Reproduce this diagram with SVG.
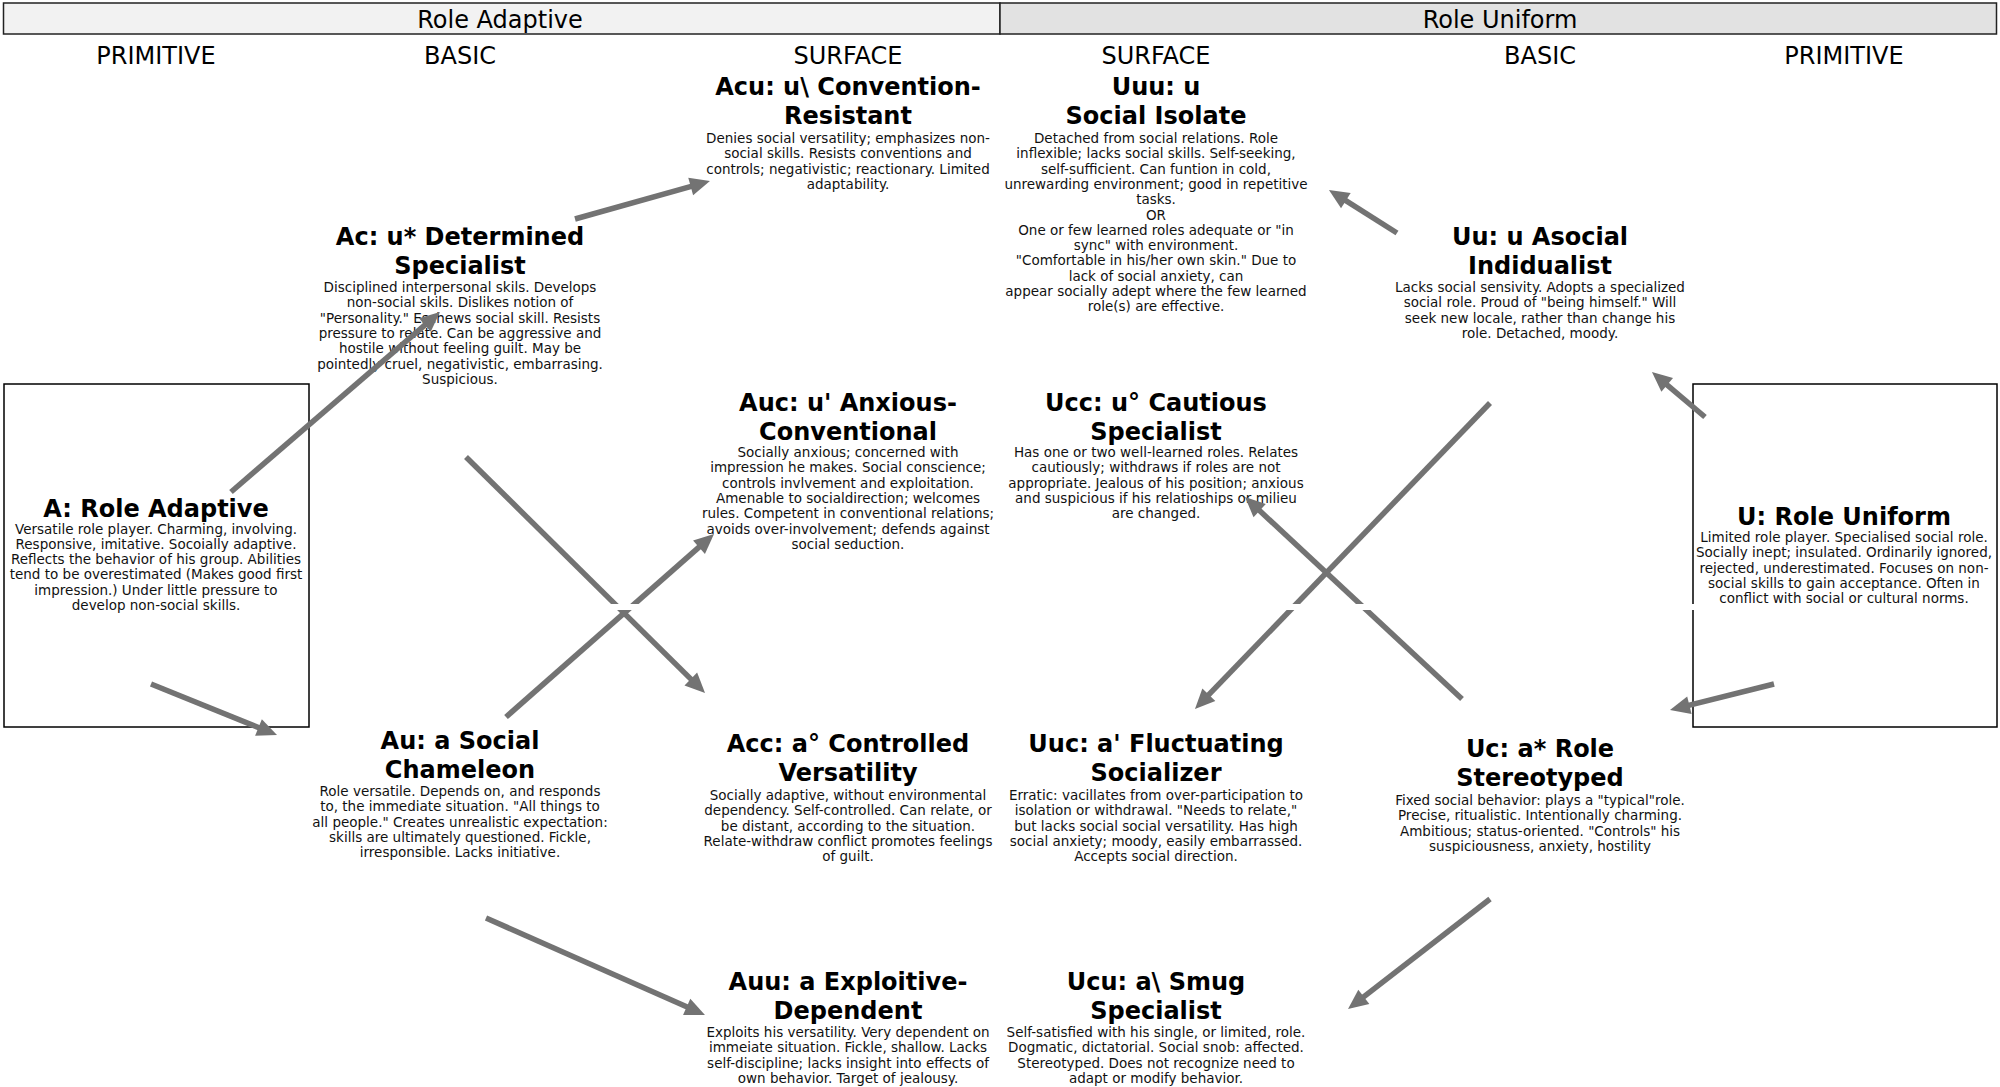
<svg xmlns="http://www.w3.org/2000/svg" width="2000" height="1087" viewBox="0 0 2000 1087">
<defs>
<style>
text{font-family:"DejaVu Sans","Liberation Sans",sans-serif;fill:#000;text-anchor:middle}
.hd{font-size:24px}
.tt{font-size:24px;font-weight:bold}
.bd{font-size:13.5px;fill:#111}
.box{fill:#fff;stroke:#000;stroke-width:1.5}
.arr{stroke:#737373;stroke-width:5.5;fill:none;marker-end:url(#ah)}
</style>
<marker id="ah" viewBox="-10 -10 24 20" refX="0" refY="0" markerWidth="24" markerHeight="20" markerUnits="userSpaceOnUse" orient="auto">
<path d="M-8,-9 L12,0 L-8,9 z" fill="#737373"/>
</marker>
</defs>
<rect width="2000" height="1087" fill="#fff"/>
<g id="header-adaptive">
<rect x="3.5" y="3" width="996.5" height="31" fill="#f2f2f2" stroke="#222" stroke-width="1.5"/>
<text class="hd" x="500" y="28">Role Adaptive</text>
</g>
<g id="header-uniform">
<rect x="1000" y="3" width="996.5" height="31" fill="#e2e2e2" stroke="#222" stroke-width="1.5"/>
<text class="hd" x="1500" y="28">Role Uniform</text>
</g>
<g id="column-labels">
<text class="hd" x="156" y="64">PRIMITIVE</text>
<text class="hd" x="460" y="64">BASIC</text>
<text class="hd" x="848" y="64">SURFACE</text>
<text class="hd" x="1156" y="64">SURFACE</text>
<text class="hd" x="1540" y="64">BASIC</text>
<text class="hd" x="1844" y="64">PRIMITIVE</text>
</g>
<g id="A">
<rect class="box" x="4" y="384" width="305" height="343"/>
<text class="tt" x="156" y="517">A: Role Adaptive</text>
<text class="bd" x="156" y="533.5"><tspan x="156">Versatile role player. Charming, involving.</tspan><tspan x="156" dy="15.3">Responsive, imitative. Socoially adaptive.</tspan><tspan x="156" dy="15.3">Reflects the behavior of his group. Abilities</tspan><tspan x="156" dy="15.3">tend to be overestimated (Makes good first</tspan><tspan x="156" dy="15.3">impression.) Under little pressure to</tspan><tspan x="156" dy="15.3">develop non-social skills.</tspan></text>
</g>
<g id="U">
<rect class="box" x="1693" y="384" width="304" height="343"/>
<text class="tt" x="1844" y="525">U: Role Uniform</text>
<text class="bd" x="1844" y="542"><tspan x="1844">Limited role player. Specialised social role.</tspan><tspan x="1844" dy="15.3">Socially inept; insulated. Ordinarily ignored,</tspan><tspan x="1844" dy="15.3">rejected, underestimated. Focuses on non-</tspan><tspan x="1844" dy="15.3">social skills to gain acceptance. Often in</tspan><tspan x="1844" dy="15.3">conflict with social or cultural norms.</tspan></text>
</g>
<g id="Acu">
<text class="tt" x="848" y="95"><tspan x="848">Acu: u\ Convention-</tspan><tspan x="848" dy="28.5">Resistant</tspan></text>
<text class="bd" x="848" y="143"><tspan x="848">Denies social versatility; emphasizes non-</tspan><tspan x="848" dy="15.3">social skills. Resists conventions and</tspan><tspan x="848" dy="15.3">controls; negativistic; reactionary. Limited</tspan><tspan x="848" dy="15.3">adaptability.</tspan></text>
</g>
<g id="Uuu">
<text class="tt" x="1156" y="95"><tspan x="1156">Uuu: u</tspan><tspan x="1156" dy="28.5">Social Isolate</tspan></text>
<text class="bd" x="1156" y="143"><tspan x="1156">Detached from social relations. Role</tspan><tspan x="1156" dy="15.3">inflexible; lacks social skills. Self-seeking,</tspan><tspan x="1156" dy="15.3">self-sufficient. Can funtion in cold,</tspan><tspan x="1156" dy="15.3">unrewarding environment; good in repetitive</tspan><tspan x="1156" dy="15.3">tasks.</tspan><tspan x="1156" dy="15.3">OR</tspan><tspan x="1156" dy="15.3">One or few learned roles adequate or "in</tspan><tspan x="1156" dy="15.3">sync" with environment.</tspan><tspan x="1156" dy="15.3">"Comfortable in his/her own skin." Due to</tspan><tspan x="1156" dy="15.3">lack of social anxiety, can</tspan><tspan x="1156" dy="15.3">appear socially adept where the few learned</tspan><tspan x="1156" dy="15.3">role(s) are effective.</tspan></text>
</g>
<g id="Ac">
<text class="tt" x="460" y="245"><tspan x="460">Ac: u* Determined</tspan><tspan x="460" dy="28.5">Specialist</tspan></text>
<text class="bd" x="460" y="292"><tspan x="460">Disciplined interpersonal skils. Develops</tspan><tspan x="460" dy="15.3">non-social skils. Dislikes notion of</tspan><tspan x="460" dy="15.3">"Personality." Eschews social skill. Resists</tspan><tspan x="460" dy="15.3">pressure to relate. Can be aggressive and</tspan><tspan x="460" dy="15.3">hostile without feeling guilt. May be</tspan><tspan x="460" dy="15.3">pointedly cruel, negativistic, embarrasing.</tspan><tspan x="460" dy="15.3">Suspicious.</tspan></text>
</g>
<g id="Uu">
<text class="tt" x="1540" y="245"><tspan x="1540">Uu: u Asocial</tspan><tspan x="1540" dy="28.5">Indidualist</tspan></text>
<text class="bd" x="1540" y="292"><tspan x="1540">Lacks social sensivity. Adopts a specialized</tspan><tspan x="1540" dy="15.3">social role. Proud of "being himself." Will</tspan><tspan x="1540" dy="15.3">seek new locale, rather than change his</tspan><tspan x="1540" dy="15.3">role. Detached, moody.</tspan></text>
</g>
<g id="Auc">
<text class="tt" x="848" y="411"><tspan x="848">Auc: u' Anxious-</tspan><tspan x="848" dy="28.5">Conventional</tspan></text>
<text class="bd" x="848" y="457"><tspan x="848">Socially anxious; concerned with</tspan><tspan x="848" dy="15.3">impression he makes. Social conscience;</tspan><tspan x="848" dy="15.3">controls invlvement and exploitation.</tspan><tspan x="848" dy="15.3">Amenable to socialdirection; welcomes</tspan><tspan x="848" dy="15.3">rules. Competent in conventional relations;</tspan><tspan x="848" dy="15.3">avoids over-involvement; defends against</tspan><tspan x="848" dy="15.3">social seduction.</tspan></text>
</g>
<g id="Ucc">
<text class="tt" x="1156" y="411"><tspan x="1156">Ucc: u° Cautious</tspan><tspan x="1156" dy="28.5">Specialist</tspan></text>
<text class="bd" x="1156" y="457"><tspan x="1156">Has one or two well-learned roles. Relates</tspan><tspan x="1156" dy="15.3">cautiously; withdraws if roles are not</tspan><tspan x="1156" dy="15.3">appropriate. Jealous of his position; anxious</tspan><tspan x="1156" dy="15.3">and suspicious if his relatioships or milieu</tspan><tspan x="1156" dy="15.3">are changed.</tspan></text>
</g>
<g id="Au">
<text class="tt" x="460" y="749"><tspan x="460">Au: a Social</tspan><tspan x="460" dy="28.5">Chameleon</tspan></text>
<text class="bd" x="460" y="796"><tspan x="460">Role versatile. Depends on, and responds</tspan><tspan x="460" dy="15.3">to, the immediate situation. "All things to</tspan><tspan x="460" dy="15.3">all people." Creates unrealistic expectation:</tspan><tspan x="460" dy="15.3">skills are ultimately questioned. Fickle,</tspan><tspan x="460" dy="15.3">irresponsible. Lacks initiative.</tspan></text>
</g>
<g id="Acc">
<text class="tt" x="848" y="752"><tspan x="848">Acc: a° Controlled</tspan><tspan x="848" dy="28.5">Versatility</tspan></text>
<text class="bd" x="848" y="800"><tspan x="848">Socially adaptive, without environmental</tspan><tspan x="848" dy="15.3">dependency. Self-controlled. Can relate, or</tspan><tspan x="848" dy="15.3">be distant, according to the situation.</tspan><tspan x="848" dy="15.3">Relate-withdraw conflict promotes feelings</tspan><tspan x="848" dy="15.3">of guilt.</tspan></text>
</g>
<g id="Uuc">
<text class="tt" x="1156" y="752"><tspan x="1156">Uuc: a' Fluctuating</tspan><tspan x="1156" dy="28.5">Socializer</tspan></text>
<text class="bd" x="1156" y="800"><tspan x="1156">Erratic: vacillates from over-participation to</tspan><tspan x="1156" dy="15.3">isolation or withdrawal. "Needs to relate,"</tspan><tspan x="1156" dy="15.3">but lacks social social versatility. Has high</tspan><tspan x="1156" dy="15.3">social anxiety; moody, easily embarrassed.</tspan><tspan x="1156" dy="15.3">Accepts social direction.</tspan></text>
</g>
<g id="Uc">
<text class="tt" x="1540" y="757"><tspan x="1540">Uc: a* Role</tspan><tspan x="1540" dy="28.5">Stereotyped</tspan></text>
<text class="bd" x="1540" y="805"><tspan x="1540">Fixed social behavior: plays a "typical"role.</tspan><tspan x="1540" dy="15.3">Precise, ritualistic. Intentionally charming.</tspan><tspan x="1540" dy="15.3">Ambitious; status-oriented. "Controls" his</tspan><tspan x="1540" dy="15.3">suspiciousness, anxiety, hostility</tspan></text>
</g>
<g id="Auu">
<text class="tt" x="848" y="990"><tspan x="848">Auu: a Exploitive-</tspan><tspan x="848" dy="28.5">Dependent</tspan></text>
<text class="bd" x="848" y="1037"><tspan x="848">Exploits his versatility. Very dependent on</tspan><tspan x="848" dy="15.3">immeiate situation. Fickle, shallow. Lacks</tspan><tspan x="848" dy="15.3">self-discipline; lacks insight into effects of</tspan><tspan x="848" dy="15.3">own behavior. Target of jealousy.</tspan></text>
</g>
<g id="Ucu">
<text class="tt" x="1156" y="990"><tspan x="1156">Ucu: a\ Smug</tspan><tspan x="1156" dy="28.5">Specialist</tspan></text>
<text class="bd" x="1156" y="1037"><tspan x="1156">Self-satisfied with his single, or limited, role.</tspan><tspan x="1156" dy="15.3">Dogmatic, dictatorial. Social snob: affected.</tspan><tspan x="1156" dy="15.3">Stereotyped. Does not recognize need to</tspan><tspan x="1156" dy="15.3">adapt or modify behavior.</tspan></text>
</g>
<g id="connectors">
<line class="arr" x1="231" y1="492" x2="430.9" y2="319.8"/>
<line class="arr" x1="151" y1="684" x2="265.9" y2="730.5"/>
<line class="arr" x1="575" y1="219" x2="698.4" y2="184.3"/>
<line class="arr" x1="466" y1="457" x2="696.5" y2="684.6"/>
<line class="arr" x1="506" y1="717" x2="705" y2="541.9"/>
<line class="arr" x1="486" y1="918" x2="694" y2="1010.1"/>
<line class="arr" x1="1397" y1="233" x2="1339.1" y2="196.4"/>
<line class="arr" x1="1705" y1="417" x2="1661.1" y2="379.8"/>
<line class="arr" x1="1774" y1="684" x2="1681.6" y2="707.1"/>
<line class="arr" x1="1490" y1="403" x2="1203.3" y2="700.4"/>
<line class="arr" x1="1462" y1="699" x2="1253.8" y2="505.2"/>
<line class="arr" x1="1490" y1="899" x2="1357.5" y2="1001.7"/>
<line x1="560" y1="607" x2="1697" y2="607" stroke="#fff" stroke-width="6"/>
</g>
</svg>
